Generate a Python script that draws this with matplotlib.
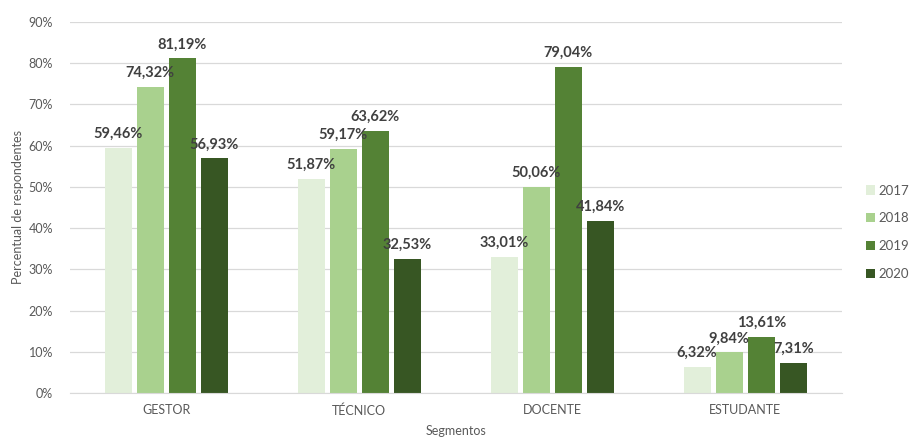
import matplotlib.pyplot as plt
import numpy as np

plt.rcParams['font.family'] = ['Lato', 'DejaVu Sans']

segments = ['GESTOR', 'TÉCNICO', 'DOCENTE', 'ESTUDANTE']
years = ['2017', '2018', '2019', '2020']
values = {
    '2017': [59.46, 51.87, 33.01, 6.32],
    '2018': [74.32, 59.17, 50.06, 9.84],
    '2019': [81.19, 63.62, 79.04, 13.61],
    '2020': [56.93, 32.53, 41.84, 7.31],
}
colors = ['#e2efda', '#a9d18e', '#548235', '#375623']
yticks = [0, 10, 20, 30, 40, 50, 60, 70, 80, 90]

fig = plt.figure(figsize=(9.17, 4.41), dpi=100)
ax = fig.add_axes([0.076, 0.109, 0.842, 0.841])

x = np.arange(len(segments))
width = 0.14
step = 0.166

for i, (year, color) in enumerate(zip(years, colors)):
    pos = x + (i - 1.5) * step
    vals = np.array(values[year])
    ax.bar(pos, vals, width=width, color=color, label=year, zorder=2)
    for p, v in zip(pos, vals):
        ax.annotate(f'{v:.2f}%'.replace('.', ','), (p, v), xytext=(0, 5),
                    textcoords='offset points', ha='center', va='bottom',
                    fontsize=10.5, fontweight='bold', color='#404040')

ax.set_xlim(-0.5, len(segments) - 0.5)
ax.set_ylim(0, 90)
ax.set_yticks(yticks)
ax.set_yticklabels([f'{t}%' for t in yticks])
ax.set_xticks(x)
ax.set_xticklabels(segments)
ax.yaxis.grid(True, color='#d9d9d9', linewidth=0.9, zorder=0)
ax.set_axisbelow(True)
for s in ['top', 'right', 'left']:
    ax.spines[s].set_visible(False)
ax.spines['bottom'].set_color('#d9d9d9')
ax.tick_params(axis='both', length=0, labelsize=9, labelcolor='#595959')
ax.tick_params(axis='x', pad=8)
ax.tick_params(axis='y', pad=12)

ax.set_ylabel('Percentual de respondentes', fontsize=9, color='#595959', labelpad=3)
ax.set_xlabel('Segmentos', fontsize=9, color='#595959', labelpad=6)

ax.legend(loc='center left', bbox_to_anchor=(0.944, 0.473),
          bbox_transform=fig.transFigure, frameon=False, borderpad=0,
          borderaxespad=0, fontsize=9.5, labelcolor='#595959',
          handlelength=0.7, handleheight=0.7, handletextpad=0.3,
          labelspacing=1.2)

fig.savefig('out.png', dpi=100)
